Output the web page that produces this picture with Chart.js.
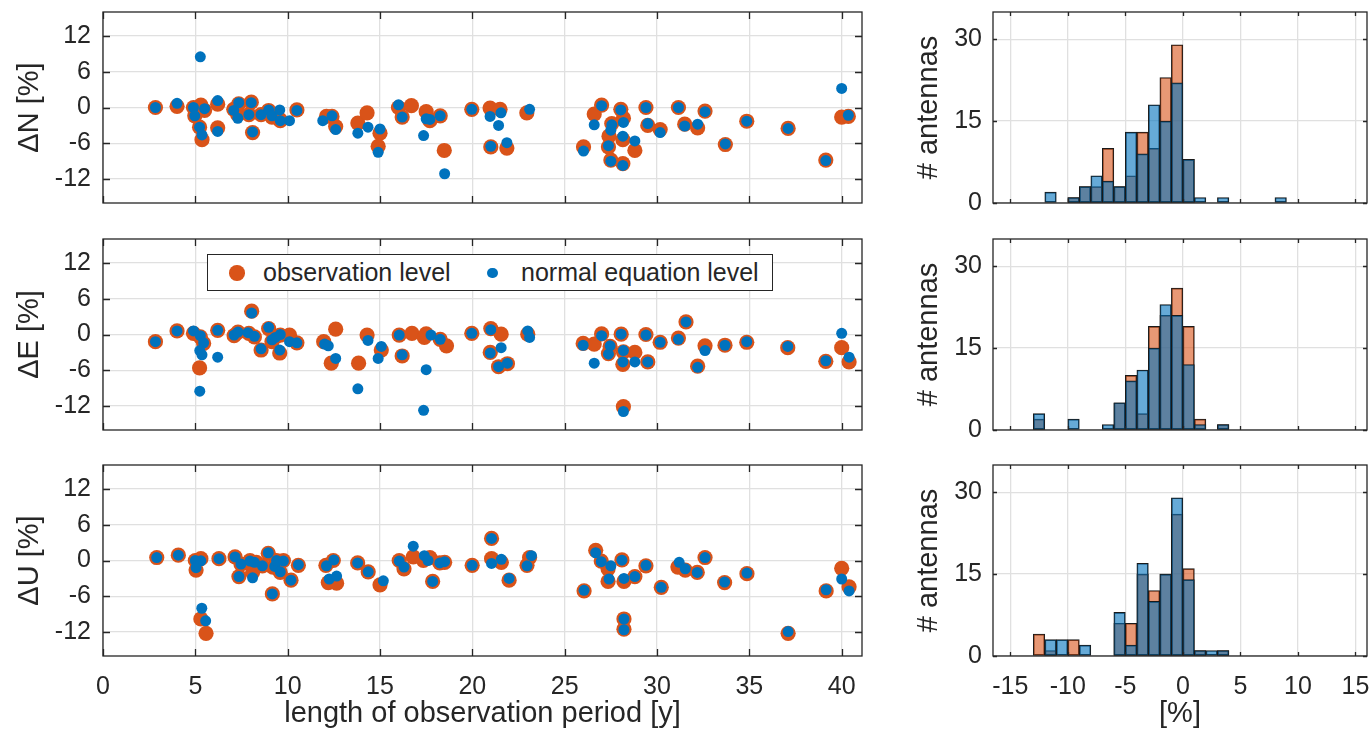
<!DOCTYPE html>
<html>
<head>
<meta charset="utf-8">
<script src="https://cdn.jsdelivr.net/npm/chart.js@4/dist/chart.umd.min.js"></script>
<style>
  body { margin: 0; background: #fff; overflow: hidden; }
  #wrap { position: relative; width: 1372px; height: 742px; }
  canvas { position: absolute; }
  #legend {
    position: absolute; left: 207px; top: 254px; width: 566px; height: 37px;
    box-sizing: border-box; border: 1.5px solid #262626; background: #fff;
    font: 25px 'Liberation Sans', Arial, sans-serif; color: #262626;
  }
  #legend .dot { position: absolute; border-radius: 50%; }
  #legend .txt { position: absolute; top: 0; line-height: 34px; white-space: nowrap; }
</style>
</head>
<body>
<div id="wrap">
  <canvas id="scN" width="872" height="215" style="left:0;top:0"></canvas>
  <canvas id="scE" width="872" height="215" style="left:0;top:227px"></canvas>
  <canvas id="scU" width="872" height="289" style="left:0;top:453px"></canvas>
  <canvas id="hiN" width="480" height="223" style="left:900px;top:0"></canvas>
  <canvas id="hiE" width="480" height="223" style="left:900px;top:227px"></canvas>
  <canvas id="hiU" width="480" height="289" style="left:900px;top:453px"></canvas>
  <div id="legend">
    <span class="dot" style="left:21px;top:10px;width:15.5px;height:15.5px;background:#D95319"></span>
    <span class="txt" style="left:55px">observation level</span>
    <span class="dot" style="left:279px;top:12.5px;width:10.5px;height:10.5px;background:#0072BD"></span>
    <span class="txt" style="left:313px">normal equation level</span>
  </div>
</div>
<script>
// scatter: [length of observation period (y), difference (%)]
var obsN = [[2.84,0],[4.01,0.2],[4.9,0],[5.3,0.4],[5.5,-0.5],[4.97,-1.4],[5.23,-3.3],[5.36,-5.4],[6.21,0.55],[6.21,-3.4],
  [7.08,-0.3],[7.35,0.6],[7.3,-1.2],[8.03,0.9],[7.9,-1.2],[8.1,-4.2],[8.56,-1.2],[8.97,-0.5],[9.15,-1.6],[9.57,-2.0],
  [9.6,-2.2],[10.5,-0.4],[12.1,-1.5],[12.4,-1.5],[12.6,-3.2],[13.8,-2.6],[14.3,-0.9],[15.0,-4.3],[14.9,-6.5],[16.0,0],
  [16.2,-1.6],[16.7,0.3],[17.5,-0.7],[17.7,-2.2],[18.26,-1.4],[18.48,-7.2],[19.97,-0.3],[20.96,-0.1],[21.5,-0.3],[21.0,-6.6],
  [21.87,-6.8],[22.95,-0.9],[26.02,-6.6],[26.6,-1.1],[27.0,0.4],[27.55,-2.7],[27.4,-4.8],[27.37,-6.6],[27.5,-8.8],[28.04,-0.3],
  [28.18,-1.8],[28.15,-5.4],[28.15,-9.4],[28.8,-7.2],[29.4,0],[29.5,-3.0],[30.17,-3.7],[31.16,0],[31.5,-2.8],[32.2,-3.4],
  [32.6,-0.6],[33.7,-6.2],[34.86,-2.3],[37.1,-3.5],[39.14,-8.8],[40.0,-1.6],[40.36,-1.5]];
var neqN = [[2.84,0],[4.01,0.7],[4.9,0],[5.5,-0.2],[4.97,-1.4],[5.23,-3.3],[5.36,-4.6],[5.27,8.5],[6.21,1.17],[6.21,-4.0],
  [7.08,-0.5],[7.35,0.8],[7.3,-1.8],[8.03,0.8],[7.9,-1.2],[8.1,-4.1],[8.56,-1.2],[8.97,-0.4],[9.15,-1.4],[9.57,-0.4],
  [9.6,-2.2],[10.1,-2.2],[10.5,-0.5],[11.9,-2.2],[12.4,-1.4],[12.6,-3.7],[13.8,-4.3],[14.35,-3.3],[15.0,-3.6],[14.9,-7.5],
  [16.0,0.45],[16.2,-1.6],[17.5,-1.9],[17.7,-2.0],[17.36,-4.7],[18.26,-1.4],[18.5,-11.1],[19.97,-0.3],[20.96,-1.5],[21.55,-0.9],
  [21.42,-3.0],[21.0,-6.5],[21.87,-5.9],[23.1,-0.3],[26.02,-7.3],[26.6,-2.9],[27.0,0.3],[27.55,-2.9],[27.5,-3.8],[27.37,-6.4],
  [27.5,-9.0],[28.04,-0.4],[28.18,-2.5],[28.15,-4.8],[28.15,-9.7],[28.8,-5.6],[29.4,0],[29.5,-2.7],[30.17,-4.2],[31.16,0],
  [31.5,-3.1],[32.2,-2.8],[32.6,-0.7],[33.7,-6.1],[34.86,-2.3],[37.1,-3.5],[39.14,-8.9],[40.0,3.2],[40.36,-1.3]];

var obsE = [[2.84,-1.2],[4.01,0.6],[4.9,0.2],[5.27,-0.4],[5.45,-1.5],[5.23,-5.6],[6.21,0.7],[7.1,-0.2],[7.31,0.4],[7.9,0.2],
  [8.05,3.9],[8.2,-0.4],[8.56,-2.6],[8.97,1.0],[9.15,-1.2],[9.33,-0.4],[9.57,-3.1],[9.6,-0.1],[10.1,-0.1],[10.5,-1.4],
  [11.95,-1.2],[12.6,0.9],[12.36,-4.8],[13.84,-4.8],[14.3,-0.1],[15.07,-2.6],[16.04,-0.1],[16.2,-3.6],[16.73,0.2],[17.4,-0.5],
  [17.5,0.1],[18.26,-0.8],[18.6,-1.9],[19.97,0.2],[21.0,1.0],[20.97,-3.0],[21.56,0.05],[21.42,-5.4],[21.9,-4.9],[23.0,0.05],
  [26.0,-1.5],[26.6,-1.6],[27.0,0.1],[27.46,-2.0],[27.37,-3.2],[28.06,0.05],[28.18,-2.9],[28.15,-5.0],[28.18,-12.1],[28.8,-3.0],
  [29.5,-4.6],[29.4,0],[30.17,-1.3],[31.16,-0.6],[31.57,2.1],[32.6,-1.9],[32.2,-5.3],[33.68,-1.8],[34.86,-1.3],[37.08,-2.2],
  [39.14,-4.5],[40.0,-2.2],[40.4,-4.6]];
var neqE = [[2.84,-1.2],[4.01,0.6],[4.9,0.6],[5.27,-0.2],[5.45,-1.4],[5.24,-2.7],[5.36,-3.4],[5.24,-9.5],[6.21,0.7],[6.21,-3.8],
  [7.1,-0.1],[7.31,0.4],[7.85,0.3],[8.05,3.6],[8.2,-0.3],[8.56,-2.4],[8.97,1.2],[9.15,-0.9],[9.33,-0.5],[9.57,-2.6],
  [9.6,0],[10.1,-1.2],[10.5,-1.4],[12.0,-1.6],[12.2,-1.9],[12.6,-4.0],[13.8,-9.1],[14.35,-1.0],[15.07,-2.0],[14.9,-4.0],
  [16.04,-0.1],[16.2,-3.4],[17.76,-0.1],[17.5,-5.9],[17.36,-12.7],[18.26,-0.8],[19.97,0.2],[21.0,0.8],[20.97,-3.1],[21.56,-2.2],
  [21.42,-5.4],[21.9,-4.8],[23.0,0.6],[23.1,-0.5],[26.0,-1.8],[26.6,-4.8],[27.0,-0.2],[27.46,-1.9],[27.37,-3.3],[28.06,0.05],
  [28.18,-2.7],[28.15,-4.6],[28.18,-12.9],[28.8,-4.6],[29.5,-4.6],[29.4,-0.1],[30.17,-1.3],[31.16,-0.8],[31.57,2.1],[32.6,-2.7],
  [32.2,-5.5],[33.68,-1.8],[34.86,-1.2],[37.08,-2.0],[39.14,-4.4],[40.0,0.2],[40.4,-3.8]];

var obsU = [[2.91,0.5],[4.08,0.9],[5.0,0],[5.3,0.3],[5.04,-1.6],[5.3,-9.8],[5.58,-12.2],[6.28,0.3],[7.15,0.6],[7.36,-2.7],
  [7.47,-0.6],[7.96,0],[8.1,-2.0],[8.3,-0.3],[8.63,-0.9],[8.95,1.2],[9.2,-1.1],[9.17,-5.6],[9.4,0],[9.6,-2.0],
  [9.77,0],[10.18,-3.3],[10.58,-0.8],[12.07,-0.8],[12.47,0],[12.2,-3.7],[12.65,-3.8],[13.79,-0.4],[14.36,-1.9],[15.0,-4.1],
  [16.04,0],[16.3,-1.4],[16.8,0.6],[17.35,0],[17.7,0.5],[17.85,-3.5],[18.24,-0.4],[18.5,-0.3],[19.99,-0.8],[21.04,3.7],
  [21.04,0.3],[21.57,-0.3],[21.99,-3.3],[23.1,0.5],[22.96,-0.8],[26.05,-5.1],[26.68,1.7],[26.98,-0.1],[27.35,-1.4],[27.35,-3.5],
  [28.1,0.1],[28.21,-3.5],[28.21,-9.8],[28.21,-11.5],[28.8,-2.7],[29.4,-0.9],[30.23,-4.5],[31.13,-1.1],[31.53,-1.6],[32.18,-2.0],
  [32.6,0.5],[33.66,-3.7],[34.87,-2.2],[37.1,-12.2],[39.16,-5.1],[40.0,-1.3],[40.4,-4.4]];
var neqU = [[2.91,0.5],[4.08,0.9],[5.0,0],[5.3,-0.05],[5.04,-1.2],[5.35,-8.0],[5.56,-10.1],[6.28,0.3],[7.15,0.6],[7.36,-2.7],
  [7.47,-0.6],[7.96,-0.1],[8.1,-2.9],[8.2,-0.3],[8.63,-0.9],[8.95,1.3],[9.3,-1.0],[9.17,-5.6],[9.4,0],[9.6,-1.9],
  [9.77,-0.1],[10.18,-3.3],[10.58,-0.7],[12.1,-0.9],[12.5,0.1],[12.25,-3.1],[12.65,-2.6],[13.79,-0.4],[14.36,-1.9],[15.18,-3.4],
  [16.04,-0.1],[16.3,-1.1],[16.8,2.4],[17.4,0.8],[17.6,0],[17.85,-3.5],[18.24,-0.4],[18.5,-0.2],[19.99,-0.8],[21.04,3.7],
  [21.04,-0.5],[21.57,0.2],[21.99,-3.0],[23.2,0.8],[22.96,-0.9],[26.05,-5.0],[26.68,1.3],[26.98,-0.2],[27.5,-0.9],[27.4,-3.1],
  [28.1,0.05],[28.21,-3.0],[28.21,-9.8],[28.21,-11.6],[28.8,-2.7],[29.4,-0.8],[30.23,-4.5],[31.2,-0.3],[31.53,-1.4],[32.18,-2.0],
  [32.6,0.5],[33.66,-3.6],[34.87,-2.1],[37.1,-11.9],[39.16,-4.9],[40.0,-3.1],[40.4,-5.1]];

// histograms: lower bin edges (%) and counts per bin
var binLo = [-13,-12,-11,-10,-9,-8,-7,-6,-5,-4,-3,-2,-1,0,1,2,3,4,5,6,7,8];
var hObsN = [0,0,0,1,3,3,10,3,5,13,10,23,29,8,0,0,0,0,0,0,0,0];
var hNeqN = [0,2,0,1,3,5,4,3,13,9,18,15,22,8,1,0,1,0,0,0,0,1];
var hObsE = [2,0,0,0,0,0,0,5,10,3,19,21,26,19,2,0,1,0,0,0,0,0];
var hNeqE = [3,0,0,2,0,0,1,5,9,11,15,23,21,12,1,0,1,0,0,0,0,0];
var hObsU = [4,1,0,3,0,0,0,6,6,15,12,15,26,16,1,0,1,0,0,0,0,0];
var hNeqU = [0,3,3,0,2,0,0,8,2,17,10,15,29,14,1,1,1,0,0,0,0,0];

var ORANGE = '#D95319';
var BLUE = '#0072BD';
var FONT = "'Liberation Sans', Arial, sans-serif";
Chart.defaults.font.family = FONT;
Chart.defaults.color = '#262626';

// matlab style box with inward ticks
var boxPlugin = {
  id: 'boxTicks',
  afterDatasetsDraw: function (chart, args, opts) {
    var ctx = chart.ctx, a = chart.chartArea, sx = chart.scales.x, sy = chart.scales.y;
    var len = opts.len;
    ctx.save();
    ctx.strokeStyle = '#262626';
    ctx.lineWidth = 1.3;
    ctx.beginPath();
    sx.ticks.forEach(function (t) {
      var p = Math.round(sx.getPixelForValue(t.value)) + 0.5;
      ctx.moveTo(p, a.bottom); ctx.lineTo(p, a.bottom - len);
      ctx.moveTo(p, a.top); ctx.lineTo(p, a.top + len);
    });
    sy.ticks.forEach(function (t) {
      var p = Math.round(sy.getPixelForValue(t.value)) + 0.5;
      ctx.moveTo(a.left, p); ctx.lineTo(a.left + len, p);
      ctx.moveTo(a.right, p); ctx.lineTo(a.right - len, p);
    });
    ctx.stroke();
    ctx.strokeRect(a.left, a.top, a.right - a.left, a.bottom - a.top);
    ctx.restore();
  }
};

function toPts(arr) {
  return arr.map(function (p) { return { x: p[0], y: p[1] }; });
}

// fixed axis boxes so the plot areas line up across canvases
function fixX(h) {
  return function (s) { s.height = h; s.paddingLeft = 0; s.paddingRight = 0; };
}
function fixY(w) {
  return function (s) { s.width = w; s.paddingTop = 0; s.paddingBottom = 0; };
}

function scatterChart(id, obs, neq, yLabel, showX) {
  new Chart(document.getElementById(id), {
    type: 'scatter',
    data: {
      datasets: [
        { label: 'normal equation level', data: toPts(neq), backgroundColor: BLUE,
          pointRadius: 5.5, pointBorderWidth: 0, order: 0 },
        { label: 'observation level', data: toPts(obs), backgroundColor: ORANGE,
          pointRadius: 7.6, pointBorderWidth: 0, order: 1 }
      ]
    },
    options: {
      responsive: false,
      animation: false,
      events: [],
      layout: { padding: { top: 12, right: 10, bottom: 0, left: 0 } },
      plugins: { legend: { display: false }, tooltip: { enabled: false }, boxTicks: { len: 7 } },
      scales: {
        x: {
          type: 'linear', min: 0, max: 41.1,
          afterFit: fixX(showX ? 86 : 12),
          border: { display: false },
          grid: { color: '#e0e0e0', lineWidth: 1.3, drawTicks: false },
          ticks: { display: showX, stepSize: 5, includeBounds: false, autoSkip: false,
                   maxRotation: 0, padding: 16, font: { size: 25 } },
          title: { display: showX, text: 'length of observation period [y]',
                   font: { size: 29 }, padding: { top: 0, bottom: 11 } }
        },
        y: {
          type: 'linear', min: -16, max: 16,
          afterFit: fixY(103),
          border: { display: false },
          grid: { color: '#e0e0e0', lineWidth: 1.3, drawTicks: false },
          ticks: { stepSize: 6, includeBounds: false, autoSkip: false, padding: 12, font: { size: 25 } },
          title: { display: true, text: yLabel, font: { size: 29 }, padding: { top: 13, bottom: 0 } }
        }
      }
    },
    plugins: [boxPlugin]
  });
}

function histData(counts) {
  return binLo.map(function (lo, i) {
    return { x: lo + 0.5, y: counts[i] > 0 ? counts[i] : null };
  });
}

function histChart(id, obs, neq, showX) {
  new Chart(document.getElementById(id), {
    type: 'bar',
    data: {
      datasets: [
        { label: 'normal equation level', data: histData(neq), backgroundColor: 'rgba(0,114,189,0.6)',
          borderColor: '#1a1a1a', borderWidth: 1, borderSkipped: false, order: 0 },
        { label: 'observation level', data: histData(obs), backgroundColor: 'rgba(217,83,25,0.6)',
          borderColor: '#1a1a1a', borderWidth: 1, borderSkipped: false, order: 1 }
      ]
    },
    options: {
      responsive: false,
      animation: false,
      events: [],
      grouped: false,
      barPercentage: 1,
      categoryPercentage: 1,
      layout: { padding: { top: 12, right: 13, bottom: 0, left: 0 } },
      plugins: { legend: { display: false }, tooltip: { enabled: false }, boxTicks: { len: 4 } },
      scales: {
        x: {
          type: 'linear', min: -16.5, max: 16, offset: false,
          afterFit: fixX(showX ? 86 : 20),
          border: { display: false },
          grid: { color: '#e0e0e0', lineWidth: 1.3, drawTicks: false, offset: false },
          ticks: { display: showX, stepSize: 5, includeBounds: false, autoSkip: false,
                   maxRotation: 0, padding: 16, font: { size: 25 } },
          title: { display: showX, text: '[%]', font: { size: 29 }, padding: { top: 0, bottom: 11 } }
        },
        y: {
          type: 'linear', min: 0, max: 35,
          afterFit: fixY(93),
          border: { display: false },
          grid: { color: '#e0e0e0', lineWidth: 1.3, drawTicks: false },
          ticks: { stepSize: 15, includeBounds: false, autoSkip: false, padding: 11, font: { size: 25 } },
          title: { display: true, text: '# antennas', font: { size: 29 }, padding: { top: 12, bottom: 0 } }
        }
      }
    },
    plugins: [boxPlugin]
  });
}

scatterChart('scN', obsN, neqN, 'ΔN [%]', false);
scatterChart('scE', obsE, neqE, 'ΔE [%]', false);
scatterChart('scU', obsU, neqU, 'ΔU [%]', true);
histChart('hiN', hObsN, hNeqN, false);
histChart('hiE', hObsE, hNeqE, false);
histChart('hiU', hObsU, hNeqU, true);
</script>
</body>
</html>
